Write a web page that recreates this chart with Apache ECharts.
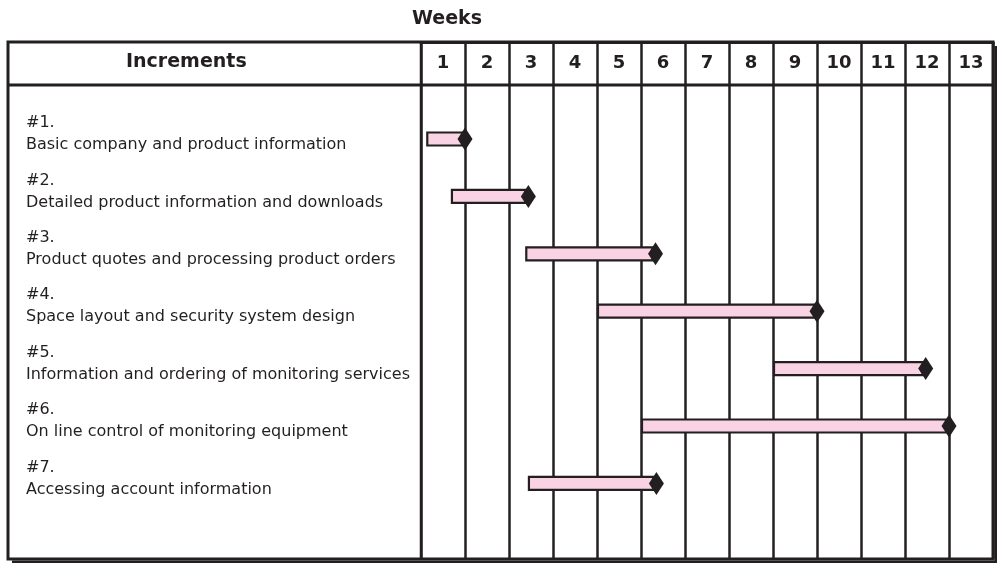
<!DOCTYPE html>
<html>
<head>
<meta charset="utf-8">
<script src="https://cdn.jsdelivr.net/npm/echarts@6/dist/echarts.min.js"></script>
<style>
  html, body { margin: 0; padding: 0; background: #fff; }
  #chart { width: 997px; height: 563px; }
</style>
</head>
<body>
<div id="chart"></div>
<script>
// week columns of the header
const weeks = ['1', '2', '3', '4', '5', '6', '7', '8', '9', '10', '11', '12', '13']

// increments (rows)
const rowIds = ['#1.', '#2.', '#3.', '#4.', '#5.', '#6.', '#7.']
const rowNames = [
  'Basic company and product information',
  'Detailed product information and downloads',
  'Product quotes and processing product orders',
  'Space layout and security system design',
  'Information and ordering of monitoring services',
  'On line control of monitoring equipment',
  'Accessing account information'
]
const rowPos = [1, 2, 3, 4, 5, 6, 7]

// bar start / milestone (diamond) in weeks
const startWeek = [0.12, 0.68, 2.37, 4.0, 8.0, 5.0, 2.43]
const endWeek = [1.0, 2.44, 5.33, 9.0, 11.47, 12.0, 5.35]

const ink = '#231F20'
const pink = '#F9D3E4'

const chart = echarts.init(document.getElementById('chart'))

const barData = rowPos.map((r, i) => [startWeek[i], endWeek[i], r])
const diamondData = rowPos.map((r, i) => [endWeek[i], r])
const labelData = rowPos.map((r, i) => [0, r, i])

const option = {
  animation: false,
  backgroundColor: '#fff',
  grid: { left: 421, right: 4, top: 42, bottom: 4 },
  xAxis: [
    { type: 'value', min: 0, max: 13, show: false },
    {
      type: 'category',
      data: weeks,
      position: 'top',
      boundaryGap: true,
      axisLine: { show: true, lineStyle: { color: ink, width: 3 } },
      axisTick: { show: false },
      axisLabel: {
        inside: true,
        margin: 21,
        verticalAlign: 'middle',
        interval: 0,
        color: ink,
        fontFamily: 'DejaVu Sans',
        fontWeight: 'bold',
        fontSize: 18
      },
      splitLine: { show: true, interval: 0, lineStyle: { color: ink, width: 2.5 } }
    }
  ],
  yAxis: { type: 'value', inverse: true, min: -0.69, max: 8.317, show: false },
  graphic: [
    { type: 'text', left: 448 - 36, top: 10, style: { text: 'Weeks', fill: ink, font: 'bold 19px "DejaVu Sans"' } },
    { type: 'text', left: 126, top: 53, style: { text: 'Increments', fill: ink, font: 'bold 19px "DejaVu Sans"' } },
    { type: 'polyline', shape: { points: [[996, 46], [996, 562], [12, 562]] }, style: { stroke: ink, lineWidth: 3, fill: null } },
    { type: 'rect', shape: { x: 8, y: 42, width: 985, height: 517 }, style: { stroke: ink, lineWidth: 3, fill: null } },
    { type: 'line', shape: { x1: 8, y1: 85, x2: 993, y2: 85 }, style: { stroke: ink, lineWidth: 3 } },
    { type: 'line', shape: { x1: 421, y1: 42, x2: 421, y2: 559 }, style: { stroke: ink, lineWidth: 2.5 } }
  ],
  series: [
    {
      type: 'custom',
      xAxisIndex: 0,
      data: barData,
      encode: { x: [0, 1], y: 2 },
      renderItem: (params, api) => {
        const p0 = api.coord([api.value(0), api.value(2)])
        const p1 = api.coord([api.value(1), api.value(2)])
        return {
          type: 'rect',
          shape: { x: p0[0] + 1, y: p0[1] - 6.5, width: p1[0] - p0[0] - 4, height: 13 },
          style: { fill: pink, stroke: ink, lineWidth: 2.2 }
        }
      },
      z: 3
    },
    {
      type: 'scatter',
      xAxisIndex: 0,
      data: diamondData,
      symbol: 'diamond',
      symbolSize: [15, 23],
      itemStyle: { color: ink, opacity: 1 },
      z: 4
    },
    {
      type: 'custom',
      xAxisIndex: 0,
      data: labelData,
      encode: { x: 0, y: 1 },
      clip: false,
      renderItem: (params, api) => {
        const y = api.coord([0, api.value(1)])[1]
        const i = api.value(2)
        const font = '16px "DejaVu Sans"'
        return {
          type: 'group',
          children: [
            { type: 'text', style: { text: rowIds[i], x: 26, y: y - 16, fill: ink, font: font, verticalAlign: 'middle' } },
            { type: 'text', style: { text: rowNames[i], x: 26, y: y + 6, fill: ink, font: font, verticalAlign: 'middle' } }
          ]
        }
      }
    }
  ]
}

chart.setOption(option)
</script>
</body>
</html>
